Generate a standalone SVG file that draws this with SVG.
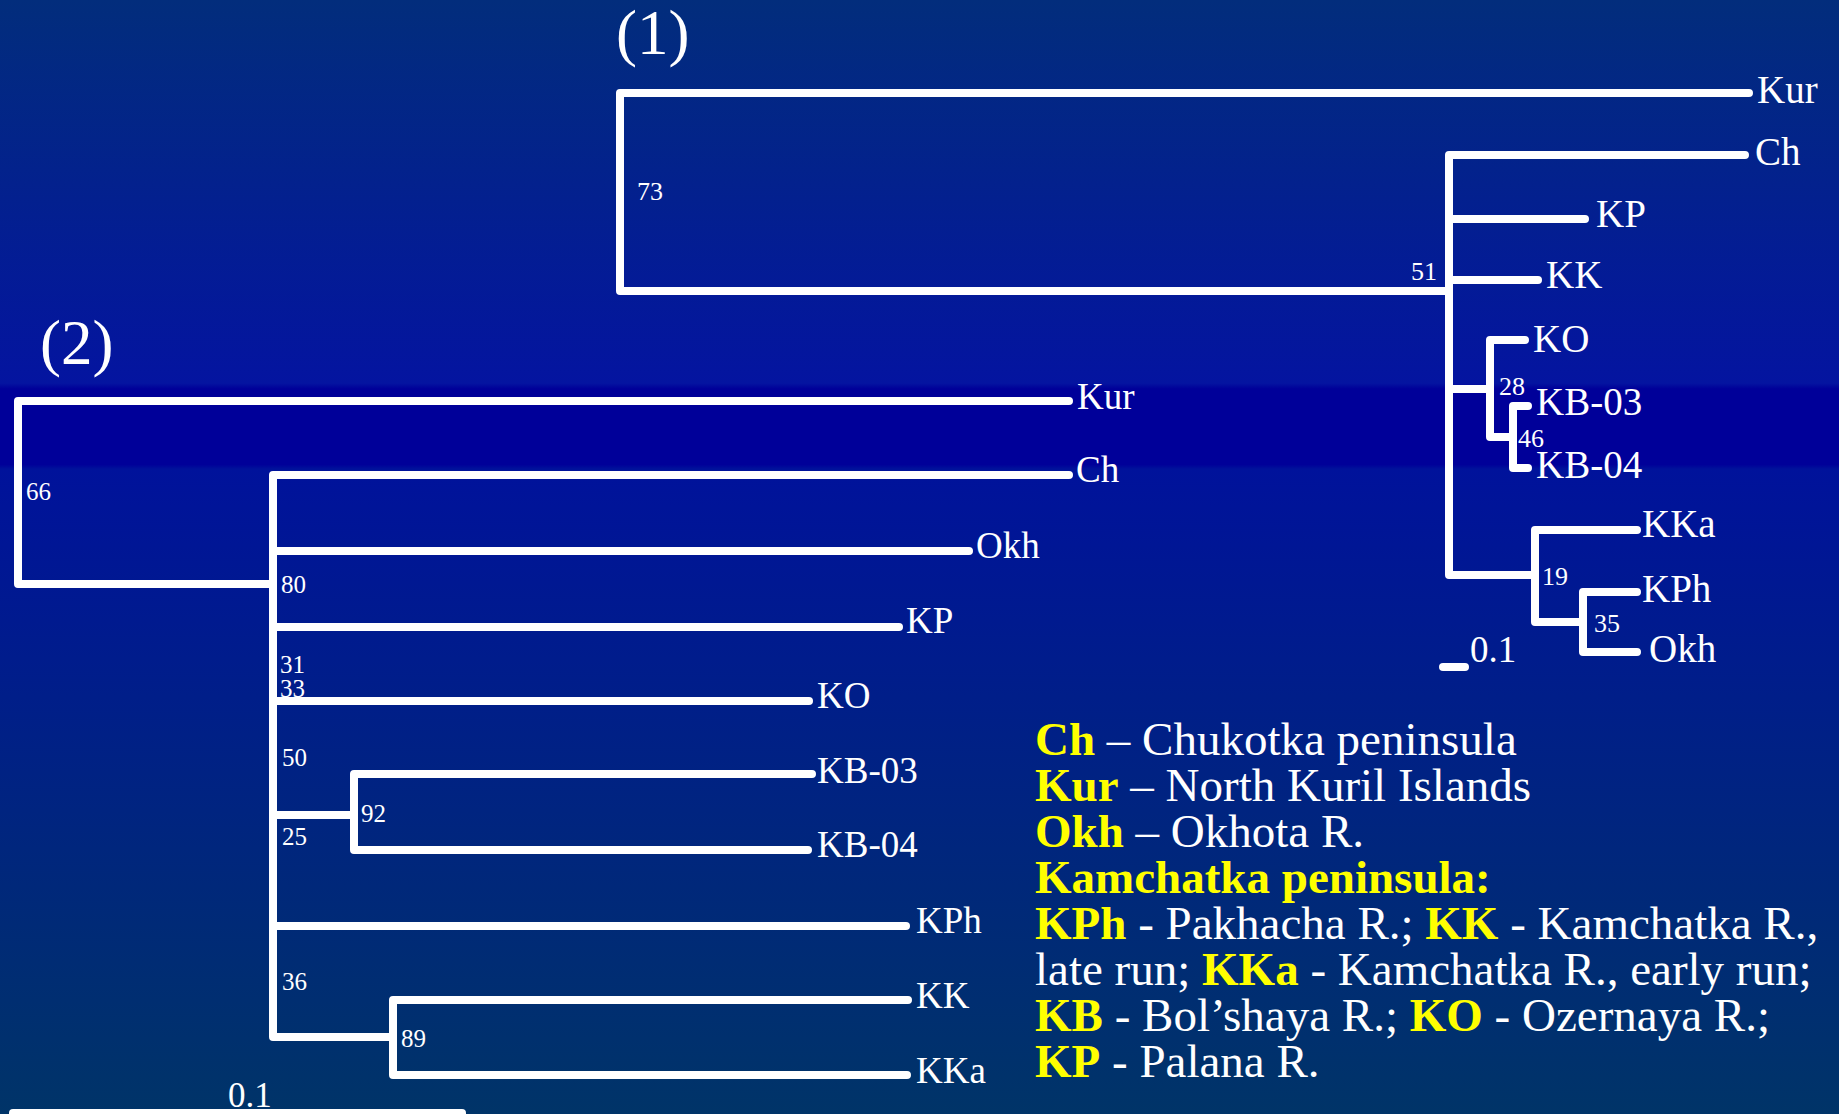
<svg xmlns="http://www.w3.org/2000/svg" width="1839" height="1114" viewBox="0 0 1839 1114">
<defs>
<linearGradient id="bg" x1="0" y1="0" x2="0" y2="1114" gradientUnits="userSpaceOnUse">
<stop offset="0" stop-color="#022d7c"/>
<stop offset="0.344" stop-color="#0414a0"/>
<stop offset="0.349" stop-color="#000099"/>
<stop offset="0.417" stop-color="#000099"/>
<stop offset="0.421" stop-color="#00129b"/>
<stop offset="1" stop-color="#003468"/>
</linearGradient>
<style>
.br{fill:none;stroke:#fff;stroke-width:8;stroke-linecap:round;stroke-linejoin:round}
.t{font-family:"Liberation Serif","Times New Roman",serif;fill:#fff}
.l1{font-size:39px}
.l2{font-size:37px}
.n1{font-size:26px}
.n2{font-size:25px}
.lg{font-family:"Liberation Serif","Times New Roman",serif;font-size:47px;fill:#fff}
.y{fill:#ffff00;font-weight:bold}
</style>
</defs>
<rect width="1839" height="1114" fill="url(#bg)"/>

<g id="connectors">
<g id="tree1-branches">
<path class="br" d="M1749,93 H620 V291 H1449"/>
<path class="br" d="M1745,155 H1449 V575 H1535"/>
<path class="br" d="M1449,219 H1585"/>
<path class="br" d="M1449,280 H1538"/>
<path class="br" d="M1449,389 H1490"/>
<path class="br" d="M1525,340 H1490 V437 H1513"/>
<path class="br" d="M1528,406 H1513 V468 H1528"/>
<path class="br" d="M1637,530 H1535 V622 H1583"/>
<path class="br" d="M1637,592 H1583 V652 H1637"/>
<path class="br" d="M1443,667 H1465"/>
</g>
<g id="tree2-branches">
<path class="br" d="M1069,401 H18 V584 H273"/>
<path class="br" d="M1069,475 H273 V1037 H393"/>
<path class="br" d="M273,551 H969"/>
<path class="br" d="M273,627 H899"/>
<path class="br" d="M273,701 H809"/>
<path class="br" d="M273,815 H354"/>
<path class="br" d="M812,774 H354 V850 H808"/>
<path class="br" d="M273,926 H906"/>
<path class="br" d="M908,1000 H393 V1075 H907"/>
<path class="br" d="M13,1113 H462"/>
</g>
</g>

<text class="t" x="616" y="54" font-size="63">(1)</text>
<text class="t" x="40" y="364" font-size="63">(2)</text>

<g id="t1-Kur"><text class="t l1" x="1757" y="103">Kur</text></g>
<g id="t1-Ch"><text class="t l1" x="1755" y="165">Ch</text></g>
<g id="t1-KP"><text class="t l1" x="1596" y="227">KP</text></g>
<g id="t1-KK"><text class="t l1" x="1546" y="288">KK</text></g>
<g id="t1-KO"><text class="t l1" x="1533" y="352">KO</text></g>
<g id="t1-KB-03"><text class="t l1" x="1536" y="415">KB-03</text></g>
<g id="t1-KB-04"><text class="t l1" x="1536" y="478">KB-04</text></g>
<g id="t1-KKa"><text class="t l1" x="1642" y="537">KKa</text></g>
<g id="t1-KPh"><text class="t l1" x="1642" y="602">KPh</text></g>
<g id="t1-Okh"><text class="t l1" x="1649" y="662">Okh</text></g>
<g id="t1-scale"><text class="t" x="1470" y="662" font-size="37">0.1</text></g>
<g id="t1-n73"><text class="t n1" x="637" y="200">73</text></g>
<g id="t1-n51"><text class="t n1" x="1411" y="280">51</text></g>
<g id="t1-n28"><text class="t n1" x="1499" y="395">28</text></g>
<g id="t1-n46"><text class="t n1" x="1518" y="447">46</text></g>
<g id="t1-n19"><text class="t n1" x="1542" y="585">19</text></g>
<g id="t1-n35"><text class="t n1" x="1594" y="632">35</text></g>

<g id="t2-Kur"><text class="t l2" x="1077" y="409">Kur</text></g>
<g id="t2-Ch"><text class="t l2" x="1076" y="482">Ch</text></g>
<g id="t2-Okh"><text class="t l2" x="976" y="558">Okh</text></g>
<g id="t2-KP"><text class="t l2" x="906" y="633">KP</text></g>
<g id="t2-KO"><text class="t l2" x="817" y="708">KO</text></g>
<g id="t2-KB-03"><text class="t l2" x="817" y="783">KB-03</text></g>
<g id="t2-KB-04"><text class="t l2" x="817" y="857">KB-04</text></g>
<g id="t2-KPh"><text class="t l2" x="916" y="933">KPh</text></g>
<g id="t2-KK"><text class="t l2" x="916" y="1008">KK</text></g>
<g id="t2-KKa"><text class="t l2" x="916" y="1083">KKa</text></g>
<g id="t2-scale"><text class="t" x="228" y="1107" font-size="35">0.1</text></g>
<g id="t2-n66"><text class="t n2" x="26" y="500">66</text></g>
<g id="t2-n80"><text class="t n2" x="281" y="593">80</text></g>
<g id="t2-n31"><text class="t n2" x="280" y="673">31</text></g>
<g id="t2-n33"><text class="t n2" x="280" y="697">33</text></g>
<g id="t2-n50"><text class="t n2" x="282" y="766">50</text></g>
<g id="t2-n92"><text class="t n2" x="361" y="822">92</text></g>
<g id="t2-n25"><text class="t n2" x="282" y="845">25</text></g>
<g id="t2-n36"><text class="t n2" x="282" y="990">36</text></g>
<g id="t2-n89"><text class="t n2" x="401" y="1047">89</text></g>

<g id="legend">
<text class="lg" x="1035" y="755"><tspan class="y">Ch</tspan> – Chukotka peninsula</text>
<text class="lg" x="1035" y="801"><tspan class="y">Kur</tspan> – North Kuril Islands</text>
<text class="lg" x="1035" y="847"><tspan class="y">Okh</tspan> – Okhota R.</text>
<text class="lg" x="1035" y="893"><tspan class="y">Kamchatka peninsula:</tspan></text>
<text class="lg" x="1035" y="939"><tspan class="y">KPh</tspan> - Pakhacha R.; <tspan class="y">KK</tspan> - Kamchatka R.,</text>
<text class="lg" x="1035" y="985">late run; <tspan class="y">KKa</tspan> - Kamchatka R., early run;</text>
<text class="lg" x="1035" y="1031"><tspan class="y">KB</tspan> - Bol’shaya R.; <tspan class="y">KO</tspan> - Ozernaya R.;</text>
<text class="lg" x="1035" y="1077"><tspan class="y">KP</tspan> - Palana R.</text>
</g>
</svg>
